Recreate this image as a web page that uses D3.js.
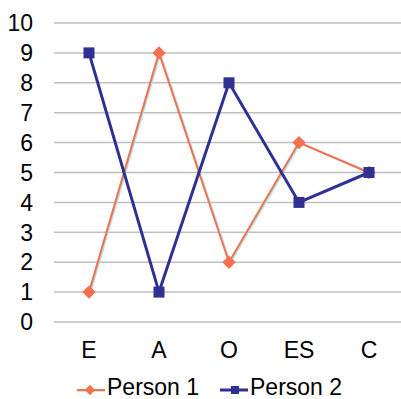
<!DOCTYPE html>
<html>
<head>
<meta charset="utf-8">
<script src="https://cdn.jsdelivr.net/npm/d3@7"></script>
<style>
  body { margin: 0; background: #fff; }
  text { font-family: "Liberation Sans", Arial, sans-serif; fill: #000; }
</style>
</head>
<body>
<div id="chart"></div>
<script>
// Chart data
const categories = ['E', 'A', 'O', 'ES', 'C'];
const person1 = [1, 9, 2, 6, 5];
const person2 = [9, 1, 8, 4, 5];
const yTicks = [0, 1, 2, 3, 4, 5, 6, 7, 8, 9, 10];
const seriesNames = ['Person 1', 'Person 2'];

const width = 401, height = 399;
const margin = {top: 23, right: 0, bottom: 77, left: 54};
const fontSize = '23px';

const svg = d3.select('#chart')
    .append('svg')
    .attr('width', width)
    .attr('height', height);

const x = d3.scaleBand()
    .domain(categories)
    .range([margin.left, margin.left + 350]);

const y = d3.scaleLinear()
    .domain([0, 10])
    .range([height - margin.bottom, margin.top]);

const cx = d => x(d) + x.bandwidth() / 2;

// Grid lines
svg.append('g')
    .selectAll('line')
    .data(yTicks)
    .enter().append('line')
    .attr('x1', margin.left)
    .attr('x2', width)
    .attr('y1', d => y(d))
    .attr('y2', d => y(d))
    .attr('stroke', '#bfbfbf')
    .attr('stroke-width', 1.5);

// Y tick labels
svg.append('g')
    .selectAll('text')
    .data(yTicks)
    .enter().append('text')
    .attr('x', 33)
    .attr('y', d => y(d))
    .attr('dy', '0.36em')
    .attr('text-anchor', 'end')
    .style('font-size', fontSize)
    .text(d => d);

// X labels
svg.append('g')
    .selectAll('text')
    .data(categories)
    .enter().append('text')
    .attr('x', d => cx(d))
    .attr('y', 358)
    .attr('text-anchor', 'middle')
    .style('font-size', fontSize)
    .text(d => d);

const line = d3.line()
    .x((d, i) => cx(categories[i]))
    .y(d => y(d));

// Person 1 (coral, with faint cyan shadow)
svg.append('path')
    .datum(person1)
    .attr('d', line)
    .attr('transform', 'translate(1.2,0.8)')
    .attr('fill', 'none')
    .attr('stroke', '#b5e3e3')
    .attr('stroke-width', 2);

svg.append('path')
    .datum(person1)
    .attr('d', line)
    .attr('fill', 'none')
    .attr('stroke', '#f4714f')
    .attr('stroke-width', 2);

// Person 2 (navy)
svg.append('path')
    .datum(person2)
    .attr('d', line)
    .attr('fill', 'none')
    .attr('stroke', '#2e3192')
    .attr('stroke-width', 3);

const diamond = d3.symbol().type(d3.symbolSquare).size(90);
const smallDiamond = d3.symbol().type(d3.symbolSquare).size(55);

svg.append('g')
    .selectAll('path')
    .data(person1)
    .enter().append('path')
    .attr('d', diamond)
    .attr('transform', (d, i) => `translate(${cx(categories[i])},${y(d)}) rotate(45)`)
    .attr('fill', '#f4714f');

svg.append('g')
    .selectAll('rect')
    .data(person2)
    .enter().append('rect')
    .attr('x', (d, i) => cx(categories[i]) - 5.5)
    .attr('y', d => y(d) - 5.5)
    .attr('width', 11)
    .attr('height', 11)
    .attr('fill', '#2e3192');

// Legend
const legendY = 390;
const legend = svg.append('g');

// Person 1 entry
legend.append('line')
    .attr('x1', 77).attr('x2', 105)
    .attr('y1', legendY + 0.8).attr('y2', legendY + 0.8)
    .attr('stroke', '#b5e3e3').attr('stroke-width', 2);
legend.append('line')
    .attr('x1', 77).attr('x2', 105)
    .attr('y1', legendY).attr('y2', legendY)
    .attr('stroke', '#f4714f').attr('stroke-width', 2);
legend.append('path')
    .attr('d', smallDiamond)
    .attr('transform', `translate(90,${legendY}) rotate(45)`)
    .attr('fill', '#f4714f');
legend.append('text')
    .attr('x', 107).attr('y', 395)
    .style('font-size', fontSize)
    .text(seriesNames[0]);

// Person 2 entry
legend.append('line')
    .attr('x1', 220).attr('x2', 248)
    .attr('y1', legendY).attr('y2', legendY)
    .attr('stroke', '#2e3192').attr('stroke-width', 3);
legend.append('rect')
    .attr('x', 235 - 4).attr('y', legendY - 4)
    .attr('width', 8).attr('height', 8)
    .attr('fill', '#2e3192');
legend.append('text')
    .attr('x', 250).attr('y', 395)
    .style('font-size', fontSize)
    .text(seriesNames[1]);
</script>
</body>
</html>
